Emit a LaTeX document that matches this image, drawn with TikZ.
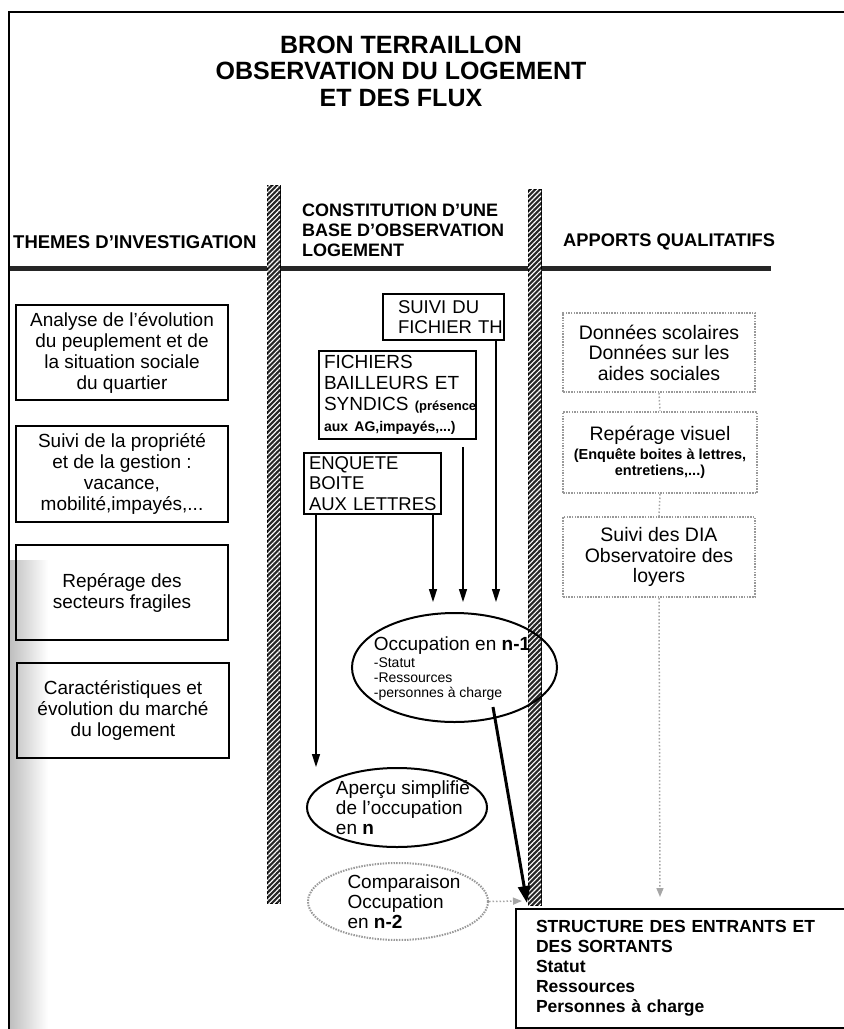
\documentclass[tikz,border=0pt]{standalone}
\usepackage{fontspec}
\setmainfont{Liberation Sans}
\usetikzlibrary{shapes.geometric,arrows.meta,patterns.meta}
\newcommand{\fs}[2]{\fontsize{#1}{#2}\selectfont}
\begin{document}
\begin{tikzpicture}[x=1pt,y=-1pt,
  solidbox/.style={draw, line width=2pt, inner sep=0pt},
  greybox/.style={draw=black!40, line width=2pt, dash pattern=on 1.5pt off 1.2pt, inner sep=0pt},
  txt/.style={inner sep=0pt},
  arr/.style={line width=1.5pt, -{Triangle[length=13pt,width=8pt]}},
  bigarr/.style={line width=3pt, -{Triangle[length=17pt,width=12pt]}},
  greyline/.style={draw=black!35, line width=1.5pt, dash pattern=on 1.5pt off 2pt},
  hbar/.style={fill=black!85, draw=black, line width=1pt,
    postaction={pattern={Lines[angle=45,distance=3.5pt,line width=1.1pt]}, pattern color=white}}
]
\clip (0,0) rectangle (844,1029);
\fill[white] (0,0) rectangle (844,1029);
\shade[left color=black!25, right color=white] (10,560) rectangle (48,1029);

% frame
\draw[line width=2pt] (9,1029) -- (9,12) -- (844,12);

% title
\node[txt, align=center, font=\bfseries\fs{25}{26.5}] (title) at (401,71)
  {BRON TERRAILLON\\OBSERVATION DU LOGEMENT\\ET DES FLUX};

% headers
\node[txt, anchor=west, font=\bfseries\fs{18.5}{20}] (h1) at (13,242) {THEMES D’INVESTIGATION};
\node[txt, anchor=west, align=left, font=\bfseries\fs{18}{20}] (h2) at (302,230)
  {CONSTITUTION D’UNE\\BASE D’OBSERVATION\\LOGEMENT};
\node[txt, anchor=west, font=\bfseries\fs{18.3}{20}] (h3) at (563,242) {APPORTS QUALITATIFS};

% header band and bars
\draw[line width=5pt, black!85] (10,268) -- (771,268);
\path[hbar] (267,185) rectangle (280,903);
\path[hbar] (528,189) rectangle (541,905);

% left column
\node[solidbox, minimum width=212pt, minimum height=95pt, align=center, font=\fs{19}{21}] (t1) at (122,352.5)
  {Analyse de l’évolution\\du peuplement et de\\la situation sociale\\du quartier};
\node[solidbox, minimum width=212pt, minimum height=96pt, align=center, font=\fs{19}{21}] (t2) at (122,474)
  {Suivi de la propriété\\et de la gestion :\\vacance,\\mobilité,impayés,...};
\node[solidbox, minimum width=212pt, minimum height=95pt, align=center, font=\fs{19}{21}] (t3) at (122,592.5)
  {Repérage des\\secteurs fragiles};
\node[solidbox, minimum width=212pt, minimum height=95pt, align=center, font=\fs{19}{21}] (t4) at (123,710.5)
  {Caractéristiques et\\évolution du marché\\du logement};

% middle column
\node[solidbox, anchor=north west, minimum height=46pt, text width=91pt, inner xsep=15pt, align=left, font=\fs{18.5}{20}] (suivi) at (382,293)
  {\mbox{SUIVI DU}\\\mbox{FICHIER TH}};
\node[solidbox, anchor=north west, minimum height=88pt, text width=147pt, inner xsep=5pt, align=left, font=\fs{19}{21}] (fich) at (318,350)
  {FICHIERS\\\mbox{BAILLEURS ET}\\\mbox{SYNDICS {\bfseries\fs{13}{21}(présence}}\\\mbox{\bfseries\fs{14}{21}aux AG,impayés,...)}};
\node[solidbox, anchor=north west, minimum height=61pt, text width=127pt, inner xsep=5pt, inner ysep=0pt, align=left, font=\fs{18.5}{20.5}] (enq) at (303,452)
  {ENQUETE\\BOITE\\\mbox{AUX LETTRES}};

\node[draw, ellipse, line width=2pt, minimum width=205pt, minimum height=109pt, inner sep=0pt] (n1) at (454.5,667.5) {};
\node[txt, align=left, font=\fs{14}{15}] (n1t) at (452,669)
  {{\fs{19}{19}Occupation en \textbf{n-1}}\\[2pt]-Statut\\-Ressources\\-personnes à charge};

\node[draw, ellipse, line width=2pt, minimum width=180pt, minimum height=79pt, inner sep=0pt] (aper) at (397,807.5) {};
\node[txt, align=left, font=\fs{19}{20}] (apert) at (403,808)
  {Aperçu simplifié\\de l’occupation\\en \textbf{n}};

\node[greybox, ellipse, minimum width=180pt, minimum height=77pt] (comp) at (398,901.5) {};
\node[txt, align=left, font=\fs{19}{20}] (compt) at (404,902)
  {Comparaison\\Occupation\\en \textbf{n-2}};

% right column
\node[greybox, minimum width=192pt, minimum height=79pt, align=center, font=\fs{19.5}{20.5}] (rb1) at (659,352.5)
  {Données scolaires\\Données sur les\\aides sociales};
\node[greybox, minimum width=194pt, minimum height=81pt, align=center, font=\bfseries\fs{14.5}{16.5}] (rb2) at (660,452.5)
  {{\mdseries\fs{19.5}{20}Repérage visuel}\\[2pt](Enquête boites à lettres,\\entretiens,...)};
\node[greybox, minimum width=192pt, minimum height=80pt, align=center, font=\fs{19.5}{20.5}] (rb3) at (659,557)
  {Suivi des DIA\\Observatoire des\\loyers};

% bottom box
\node[solidbox, anchor=north west, text width=320pt, inner xsep=20pt, minimum height=119pt, align=left, font=\bfseries\fs{17.5}{20}] (struct) at (515,908)
  {STRUCTURE DES ENTRANTS ET\\DES SORTANTS\\Statut\\Ressources\\Personnes à charge};

% coordinates for free ends
\coordinate (a1) at (316,767);
\coordinate (a2) at (433,602);
\coordinate (a3) at (463,602);
\coordinate (a4) at (496,602);
\coordinate (s1) at (493,707);
\coordinate (s2) at (527,903);
\coordinate (c2) at (522,901);
\coordinate (r4) at (660,897);

% connectors
\draw[arr] (enq.south -| a1) -- (a1);
\draw[arr] (enq.south -| a2) -- (a2);
\draw[arr, shorten <=7pt] (fich.south -| a3) -- (a3);
\draw[arr] (suivi.south -| a4) -- (a4);
\draw[bigarr] (s1) -- (s2);
\draw[greyline, -{Triangle[length=9pt,width=7pt]}] (comp.east) -- (c2);
\draw[greyline] (rb1.south) -- (rb2.north);
\draw[greyline] (rb2.south) -- (rb3.north);
\draw[greyline, -{Triangle[length=9pt,width=7pt]}] (rb3.south) -- (r4);
\end{tikzpicture}
\end{document}
